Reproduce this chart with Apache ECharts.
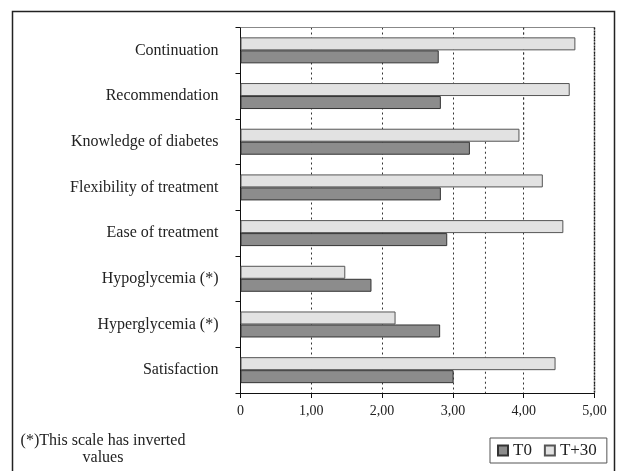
<!DOCTYPE html>
<html>
<head>
<meta charset="utf-8">
<script src="https://cdn.jsdelivr.net/npm/echarts@6/dist/echarts.min.js"></script>
<style>
html,body{margin:0;padding:0;background:#fff;}
#c{width:617px;height:471px;}
</style>
</head>
<body>
<div id="c"></div>
<script>
// Categories listed bottom to top
const categories = ['Satisfaction','Hyperglycemia (*)','Hypoglycemia (*)','Ease of treatment','Flexibility of treatment','Knowledge of diabetes','Recommendation','Continuation'];
const seriesNames = ['T0','T+30'];
const valuesT0  = [3.01, 2.82, 1.85, 2.92, 2.83, 3.24, 2.83, 2.80];
const valuesT30 = [4.45, 2.19, 1.48, 4.56, 4.27, 3.94, 4.65, 4.73];
const xTicks = [0, 1, 2, 3, 4, 5];
const xTickLabels = ['0','1,00','2,00','3,00','4,00','5,00'];
// extra dotted reference segments (x value, from band position, to band position)
const refSegA = [[4, 8], [4, 5.5]];
const refSegB = [[3.46, 5.5], [3.46, 0]];
const refSegEnd = [[5, 8], [5, 0]];
const footnoteLines = ['(*)This scale has inverted', 'values'];

const FONT = '"Liberation Serif", "Times New Roman", serif';
const chart = echarts.init(document.getElementById('c'));
chart.setOption({
  animation: false,
  backgroundColor: '#fff',
  textStyle: { fontFamily: FONT },
  grid: { left: 240.5, right: 22.5, top: 27.5, bottom: 78, containLabel: false },
  xAxis: [{
    type: 'value', min: 0, max: 5, interval: 1,
    axisLine: { show: true, lineStyle: { color: '#111', width: 1 } },
    axisTick: { show: true, length: 5, lineStyle: { color: '#111' } },
    axisLabel: { fontFamily: FONT, fontSize: 14, color: '#222', margin: 11,
      formatter: v => xTickLabels[xTicks.indexOf(v)] },
    splitLine: { show: true, lineStyle: { color: '#333', type: [2, 3], width: 1 } }
  }, {
    type: 'value', min: 0, max: 5, position: 'top',
    axisLine: { show: true, lineStyle: { color: '#888', width: 1 } },
    axisTick: { show: false }, axisLabel: { show: false }, splitLine: { show: false }
  }],
  yAxis: [{
    type: 'category', data: categories,
    axisLine: { show: true, lineStyle: { color: '#111', width: 1 } },
    axisTick: { show: true, length: 5, lineStyle: { color: '#111' } },
    axisLabel: { fontFamily: FONT, fontSize: 16, color: '#222', margin: 22 }
  }, {
    type: 'value', min: 0, max: 8, show: false
  }],
  legend: {
    data: seriesNames,
    left: 490, top: 438,
    padding: [4, 10, 4, 7],
    borderColor: '#555', borderWidth: 1,
    itemWidth: 10, itemHeight: 10, itemGap: 12,
    icon: 'rect',
    textStyle: { fontFamily: FONT, fontSize: 17, color: '#222' }
  },
  series: [
    { name: 'T+30', type: 'bar', data: valuesT30, barWidth: 13, barGap: '0%',
      itemStyle: { color: '#e2e2e2', borderColor: '#555', borderWidth: 1 } },
    { name: 'T0', type: 'bar', data: valuesT0, barWidth: 13, barGap: '0%',
      itemStyle: { color: '#8c8c8c', borderColor: '#333', borderWidth: 1 } },
    { type: 'line', xAxisIndex: 0, yAxisIndex: 1, data: refSegA, symbol: 'none', z: 1,
      silent: true, lineStyle: { color: '#333', width: 1, type: [2, 3] } },
    { type: 'line', xAxisIndex: 0, yAxisIndex: 1, data: refSegB, symbol: 'none', z: 1,
      silent: true, lineStyle: { color: '#333', width: 1, type: [2, 3] } },
    { type: 'line', xAxisIndex: 0, yAxisIndex: 1, data: refSegEnd, symbol: 'none', z: 3,
      silent: true, lineStyle: { color: '#222', width: 1.5, type: [2, 1] } }
  ],
  graphic: [
    { type: 'rect', shape: { x: 12.5, y: 11.5, width: 602, height: 470 },
      style: { fill: 'none', stroke: '#222', lineWidth: 1.5 }, silent: true, z: -1 },
    { type: 'text', silent: true,
      style: { text: footnoteLines[0], x: 103, y: 441, font: '16px ' + FONT, fill: '#222',
        textAlign: 'center', textVerticalAlign: 'middle' } },
    { type: 'text', silent: true,
      style: { text: footnoteLines[1], x: 103, y: 458, font: '16px ' + FONT, fill: '#222',
        textAlign: 'center', textVerticalAlign: 'middle' } }
  ]
});
</script>
</body>
</html>
